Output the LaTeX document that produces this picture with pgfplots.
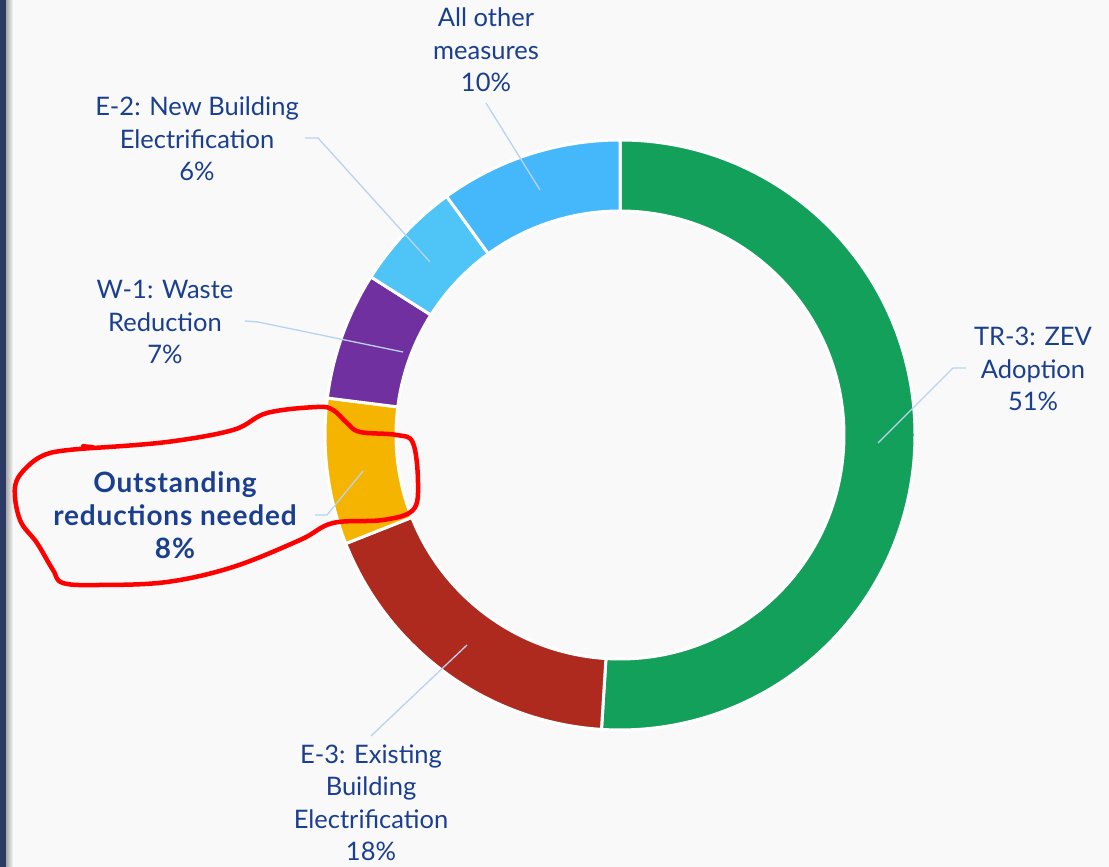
\documentclass[border=0pt]{standalone}
\usepackage{pgfplots}
\pgfplotsset{compat=1.18}
\usepackage{pgfplotstable}
\usepackage{fontspec}
\setmainfont{Lato}
\newfontfamily\boldlato[LetterSpace=3]{Lato}
\definecolor{cgreen}{HTML}{13A05A}
\definecolor{cred}{HTML}{AE2A1F}
\definecolor{cyellow}{HTML}{F4B400}
\definecolor{cpurple}{HTML}{7030A0}
\definecolor{cltblue}{HTML}{4FC4F6}
\definecolor{cblue}{HTML}{45B8FC}
\definecolor{tblue}{HTML}{1B3F8F}
\definecolor{lead}{HTML}{B8D3F2}
\definecolor{bg}{HTML}{F9F9F9}
\definecolor{navy}{HTML}{2A3A64}
\tikzset{lbl/.style={font=\fontsize{25.5}{32.5}\selectfont, text=tblue, align=center, inner sep=0pt}}
\pgfplotstableread{
share color
51 cgreen
18 cred
8 cyellow
7 cpurple
6 cltblue
10 cblue
}\slices
\begin{document}
\begin{tikzpicture}
\begin{axis}[hide axis, x=1pt, y=1pt, xmin=0, xmax=1109, ymin=0, ymax=867,
  scale only axis, disabledatascaling, clip=false]
\pgfplotsextra{
  \fill[bg] (axis cs:0,0) rectangle (axis cs:1109,867);
  \fill[navy] (axis cs:0,0) rectangle (axis cs:6,867);
  \shade[left color=black!35, right color=bg] (axis cs:6,0) rectangle (axis cs:13,867);
  \pgfplotstablegetrowsof{\slices}
  \pgfmathtruncatemacro\N{\pgfplotsretval-1}
  \gdef\startang{90}
  \foreach \i in {0,...,\N}{
    \pgfplotstablegetelem{\i}{share}\of\slices
    \pgfmathsetmacro\endang{\startang-3.6*\pgfplotsretval}
    \pgfplotstablegetelem{\i}{color}\of\slices
    \edef\col{\pgfplotsretval}
    \fill[\col, draw=white, line width=3pt]
      ([shift={(\startang:295pt)}]axis cs:620,432) arc[start angle=\startang, end angle=\endang, radius=295pt]
      -- ([shift={(\endang:224pt)}]axis cs:620,432) arc[start angle=\endang, end angle=\startang, radius=224pt] -- cycle;
    \xdef\startang{\endang}
  }
}
\addplot[lead, line width=1.3pt] coordinates {(486,764) (540,677)};
\addplot[lead, line width=1.3pt] coordinates {(305,729) (318,729) (430,605)};
\addplot[lead, line width=1.3pt] coordinates {(245,546) (258,545) (403,515)};
\addplot[lead, line width=1.3pt] coordinates {(315,352) (327,352) (363,396)};
\addplot[lead, line width=1.3pt] coordinates {(966,499) (953,499) (878,424)};
\addplot[lead, line width=1.3pt] coordinates {(371,131) (467,222)};
\addplot[red, line width=4.5pt, smooth, tension=0.6, line join=round, line cap=round] coordinates {
(93,419) (50,414) (27,400) (15,380) (20,347) (37,324) (53,297) (63,284) (100,282) (167,285) (233,300) (300,327) (333,344) (383,347) (413,357) (418,384) (413,424) (397,432) (360,435) (347,444) (333,457) (317,460) (267,454) (233,437) (167,425) (93,419)};
\addplot[red, line width=4pt, line cap=round] coordinates {(83,421) (93,420)};
\node[lbl] at (axis cs:486,817) {All other\\measures\\10\%};
\node[lbl] at (axis cs:197,728) {E-2: New Building\\Electrification\\6\%};
\node[lbl] at (axis cs:165,545) {W-1: Waste\\Reduction\\7\%};
\node[lbl, font=\fontsize{28}{33}\boldlato\bfseries] at (axis cs:175,352) {Outstanding\\reductions needed\\8\%};
\node[lbl] at (axis cs:1033,498) {TR-3: ZEV\\Adoption\\51\%};
\node[lbl] at (axis cs:371,64) {E-3: Existing\\Building\\Electrification\\18\%};
\end{axis}
\pgfresetboundingbox
\useasboundingbox (current axis.south west) rectangle (current axis.north east);
\end{tikzpicture}
\end{document}
